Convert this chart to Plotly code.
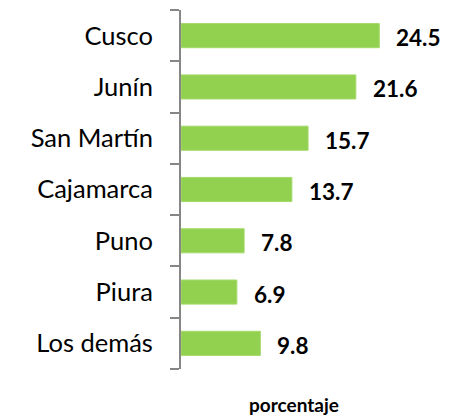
import plotly.graph_objects as go

categories = ["Cusco", "Junín", "San Martín", "Cajamarca", "Puno", "Piura", "Los demás"]
values = [24.5, 21.6, 15.7, 13.7, 7.8, 6.9, 9.8]
value_labels = ["24.5", "21.6", "15.7", "13.7", "7.8", "6.9", "9.8"]
axis_title = "porcentaje"

FONT = "Lato, Carlito, Calibri, sans-serif"

fig = go.Figure()
fig.add_trace(go.Bar(
    y=categories, x=values, orientation="h",
    marker=dict(color="#92D050", line=dict(color="#A4DA6A", width=1)),
    width=0.47, hoverinfo="skip",
))

for c, v, t in zip(categories, values, value_labels):
    fig.add_annotation(x=v, y=c, text="<b>%s</b>" % t, showarrow=False,
                       xanchor="left", yanchor="middle", xshift=15, yshift=-2,
                       font=dict(family=FONT, size=22.5, color="#000000"))

fig.add_annotation(x=(294 - 181) / 259, y=(369 - 404) / 359, xref="paper", yref="paper",
                   text="<b>%s</b>" % axis_title, showarrow=False,
                   xanchor="center", yanchor="middle",
                   font=dict(family=FONT, size=19, color="#000000"))

fig.update_layout(
    width=452, height=419,
    margin=dict(l=181, r=12, t=10, b=50),
    paper_bgcolor="white", plot_bgcolor="white",
    showlegend=False,
    xaxis=dict(range=[0, 32], visible=False, showgrid=False, zeroline=False,
               automargin=False),
    yaxis=dict(
        categoryorder="array", categoryarray=categories[::-1],
        showline=True, linecolor="#868686", linewidth=2,
        ticks="outside", ticklen=9, tickcolor="#868686", tickwidth=2,
        tickson="boundaries", showgrid=False, zeroline=False,
        ticklabelstandoff=21, automargin=False,
        tickfont=dict(family=FONT, size=25.5, color="#000000"),
    ),
)

fig.write_html("out.html", config={"displayModeBar": False},
               post_script="document.body.style.margin='0';document.body.style.overflow='hidden';")
